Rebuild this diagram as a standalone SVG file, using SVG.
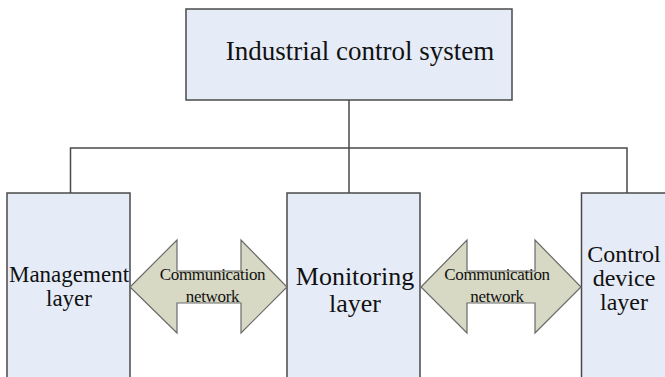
<svg xmlns="http://www.w3.org/2000/svg" width="665" height="377" viewBox="0 0 665 377">
<style>
.box{fill:#E6ECF7;stroke:#4a4a4a;stroke-width:1.5}
.arr{fill:#D7D9C4;stroke:#6a6a6a;stroke-width:1.2}
.ln{fill:none;stroke:#4a4a4a;stroke-width:1.5}
</style>
<rect width="665" height="377" fill="#fff"/>
<g id="connectors">
<path class="ln" d="M349,100 V148 M70.5,193 V148 H627 V193 M349,148 V193"/>
</g>
<g font-family="'Liberation Serif', 'Times New Roman', serif" fill="#111" text-anchor="middle">
<g id="ics">
<rect class="box" x="186" y="9" width="326" height="91"/>
<text font-size="27" x="360" y="60">Industrial control system</text>
</g>
<g id="management">
<rect class="box" x="7" y="193" width="123" height="200"/>
<text font-size="23" x="69" y="282">Management</text>
<text font-size="23" x="69" y="306">layer</text>
</g>
<g id="monitoring">
<rect class="box" x="287" y="193" width="133" height="200"/>
<text font-size="26" x="355" y="285">Monitoring</text>
<text font-size="26" x="355" y="312">layer</text>
</g>
<g id="control">
<rect class="box" x="581.5" y="193" width="100" height="200"/>
<text font-size="24" x="624" y="262">Control</text>
<text font-size="24" x="624" y="286">device</text>
<text font-size="24" x="624" y="310">layer</text>
</g>
<g id="comm1">
<path class="arr" d="M130,287 L177,240 V271 H241 V240 L287,287 L241,333 V303 H177 V333 Z"/>
<text font-size="17" letter-spacing="-0.3" x="212.5" y="280">Communication</text>
<text font-size="17" letter-spacing="-0.3" x="212.5" y="302">network</text>
</g>
<g id="comm2">
<path class="arr" d="M421,287 L467,240 V271 H535 V240 L581,287 L535,333 V303 H467 V333 Z"/>
<text font-size="17" letter-spacing="-0.3" x="497" y="280">Communication</text>
<text font-size="17" letter-spacing="-0.3" x="497" y="302">network</text>
</g>
</g>
</svg>
